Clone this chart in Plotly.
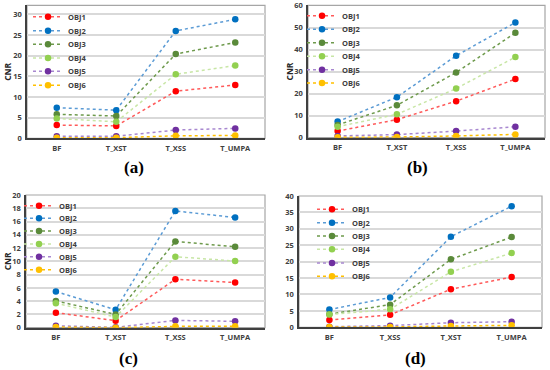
import plotly.graph_objects as go

# ---------------- data ----------------
series = ["OBJ1", "OBJ2", "OBJ3", "OBJ4", "OBJ5", "OBJ6"]
categories_abc = ["BF", "T_XST", "T_XSS", "T_UMPA"]
categories_d = ["BF", "T_XSS", "T_XST", "T_UMPA"]

cnr_a = {
    "OBJ1": [3.2, 3.0, 11.4, 12.9],
    "OBJ2": [7.4, 6.8, 26.0, 28.8],
    "OBJ3": [5.8, 5.4, 20.4, 23.2],
    "OBJ4": [4.8, 4.0, 15.5, 17.6],
    "OBJ5": [0.5, 0.5, 2.0, 2.4],
    "OBJ6": [0.15, 0.15, 0.6, 0.7],
}
cnr_b = {
    "OBJ1": [3.0, 8.2, 16.6, 26.6],
    "OBJ2": [7.3, 18.4, 37.2, 52.3],
    "OBJ3": [5.8, 14.7, 29.6, 47.6],
    "OBJ4": [5.0, 10.6, 22.3, 36.6],
    "OBJ5": [0.8, 1.4, 3.0, 5.0],
    "OBJ6": [0.2, 0.3, 0.8, 1.5],
}
cnr_c = {
    "OBJ1": [2.27, 1.06, 7.3, 6.8],
    "OBJ2": [5.45, 2.7, 17.6, 16.6],
    "OBJ3": [4.04, 2.0, 13.0, 12.2],
    "OBJ4": [3.7, 1.6, 10.7, 10.05],
    "OBJ5": [0.3, 0.05, 1.1, 0.96],
    "OBJ6": [0.1, 0.0, 0.2, 0.2],
}
cnr_d = {
    "OBJ1": [2.2, 3.8, 11.6, 15.3],
    "OBJ2": [5.4, 9.1, 27.6, 36.9],
    "OBJ3": [4.0, 6.9, 20.7, 27.5],
    "OBJ4": [3.9, 5.5, 16.9, 22.6],
    "OBJ5": [0.2, 0.5, 1.4, 1.7],
    "OBJ6": [0.1, 0.1, 0.4, 0.6],
}
panel_labels = ["(a)", "(b)", "(c)", "(d)"]
y_title = "CNR"

# ---------------- styles ----------------
W, H = 550, 370
marker_colors = {"OBJ1": "#FF0000", "OBJ2": "#0070C0", "OBJ3": "#5A8A3A",
                 "OBJ4": "#92D050", "OBJ5": "#7030A0", "OBJ6": "#FFC000"}
line_colors = {"OBJ1": "#FF5A5A", "OBJ2": "#5B9BD5", "OBJ3": "#6E9A4C",
               "OBJ4": "#C8E6A6", "OBJ5": "#A888D0", "OBJ6": "#FFC000"}

# panel geometry in pixels: (left, right, top, bottom)
panels = [
    dict(data=cnr_a, cats=categories_abc, box=(27, 265, 5.3, 138.3), yr=[0, 32.2], dt=5,
         leg_y=[16.7, 30.7, 44.3, 58, 71.3, 85.3], leg_x=28, title=True, lab=(134, 167)),
    dict(data=cnr_b, cats=categories_abc, box=(308, 545, 5.3, 137.7), yr=[0, 60.1], dt=10,
         leg_y=[15.7, 29.3, 42.7, 56.3, 69.7, 83], leg_x=302, title=True, lab=(417, 167)),
    dict(data=cnr_c, cats=categories_abc, box=(26, 265, 195, 327.7), yr=[0, 20], dt=2,
         leg_y=[205.7, 218.3, 231, 244, 256.7, 269.7], leg_x=19, title=True, lab=(128, 358)),
    dict(data=cnr_d, cats=categories_d, box=(299, 542, 196, 327.3), yr=[0, 40], dt=5,
         leg_y=[209.3, 222.7, 236, 249.3, 263, 276.3], leg_x=312, title=False, lab=(415, 358)),
]

tick_font = dict(family="Open Sans", size=7.5, color="#404040", weight="bold")

fig = go.Figure()
layout = dict(width=W, height=H, margin=dict(l=0, r=0, t=0, b=0, autoexpand=False),
              paper_bgcolor="white", plot_bgcolor="white", showlegend=True)
annotations = []
shapes = []
leg_n = 0
for i, p in enumerate(panels):
    xa = "xaxis" if i == 0 else f"xaxis{i+1}"
    ya = "yaxis" if i == 0 else f"yaxis{i+1}"
    xr = "x" if i == 0 else f"x{i+1}"
    yr = "y" if i == 0 else f"y{i+1}"
    l, r, t, b = p["box"]
    layout[xa] = dict(domain=[l / W, r / W], anchor=yr, type="category",
                      categoryorder="array", categoryarray=p["cats"],
                      range=[-0.5, 3.5], showgrid=False, zeroline=False,
                      showline=True, linecolor="#404040", linewidth=1.5,
                      ticks="outside", ticklen=2, tickcolor="rgba(0,0,0,0)",
                      tickfont=tick_font, automargin=False)
    layout[ya] = dict(domain=[1 - b / H, 1 - t / H], anchor=xr, range=p["yr"],
                      dtick=p["dt"], showgrid=True, gridcolor="#D9D9D9", gridwidth=2,
                      zeroline=False, showline=True, linecolor="#404040", linewidth=1.5,
                      ticks="outside", ticklen=2, tickcolor="rgba(0,0,0,0)",
                      tickfont=tick_font, automargin=False)
    # plot area border (top / right)
    shapes.append(dict(type="rect", xref=f"{xr} domain", yref=f"{yr} domain",
                       x0=0, x1=1, y0=0, y1=1, line=dict(color="#A6A6A6", width=1.2),
                       fillcolor="rgba(0,0,0,0)", layer="below"))
    for k, name in enumerate(series):
        leg_n += 1
        lid = "legend" if leg_n == 1 else f"legend{leg_n}"
        layout[lid] = dict(x=p["leg_x"] / W, y=1 - p["leg_y"][k] / H, xanchor="left",
                           yanchor="middle", bgcolor="rgba(0,0,0,0)", borderwidth=0,
                           font=dict(family="Open Sans", size=7.5, color="#404040",
                                     weight="bold"),
                           itemwidth=30)
        fig.add_trace(go.Scatter(
            x=p["cats"], y=p["data"][name], name=name, mode="lines+markers",
            line=dict(color=line_colors[name], width=1.5, dash="dot"),
            marker=dict(color=marker_colors[name], size=6.5),
            xaxis=xr, yaxis=yr, legend=lid))
    if p["title"]:
        annotations.append(dict(text=y_title, xref="paper", yref="paper",
                                x=(l - 19) / W, y=1 - (t + b) / 2 / H, textangle=-90,
                                showarrow=False, xanchor="center", yanchor="middle",
                                font=dict(family="Open Sans", size=8.5, color="#262626",
                                          weight="bold")))
    annotations.append(dict(text=panel_labels[i], xref="paper", yref="paper",
                            x=p["lab"][0] / W, y=1 - p["lab"][1] / H, showarrow=False,
                            xanchor="center", yanchor="middle",
                            font=dict(family="Liberation Serif", size=17, color="#000000",
                                      weight="bold")))

layout["annotations"] = annotations
layout["shapes"] = shapes
fig.update_layout(**layout)
fig.write_html("out.html", config={"displayModeBar": False},
               post_script="document.body.style.margin='0';document.body.style.padding='0';")
